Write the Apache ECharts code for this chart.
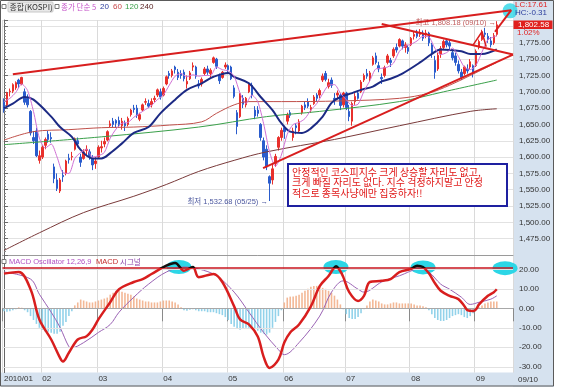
<!DOCTYPE html>
<html><head><meta charset="utf-8">
<script src="https://cdn.jsdelivr.net/npm/echarts@6/dist/echarts.min.js"></script>
<style>html,body{margin:0;padding:0;background:#fff;overflow:hidden}#c{width:565px;height:387px}</style>
</head><body><div id="c"></div><script>
// ---- trading days (2010) ----
const janDays=[13,14,15,18,19,20,21,22,25,26,27,28,29];
const febDays=[1,2,3,4,5,8,9,10,11,12,16,17,18,19,22,23,24,25,26];
const marDays=[2,3,4,5,8,9,10,11,12,15,16,17,18,19,22,23,24,25,26,29,30,31];
const aprDays=[1,2,5,6,7,8,9,12,13,14,15,16,19,20,21,22,23,26,27,28,29,30];
const mayDays=[3,4,6,7,10,11,12,13,14,17,18,19,20,24,25,26,27,28,31];
const junDays=[1,3,4,7,8,9,10,11,14,15,16,17,18,21,22,23,24,25,28,29,30];
const julDays=[1,2,5,6,7,8,9,12,13,14,15,16,19,20,21,22,23,26,27,28,29,30];
const augDays=[2,3,4,5,6,9,10,11,12,13,16,17,18,19,20,23,24,25,26,27,30,31];
const sepDays=[1,2,3,6,7,8,9,10];

// ---- KOSPI daily [open, high, low, close] ----
const ohlcJan=[[1684,1690,1668,1672],[1680,1700,1678,1698],[1700,1705,1693,1701],[1701,1713,1698,1711],[1706,1716,1703,1714],[1718,1720,1706,1712],[1712,1723,1710,1722],[1700,1705,1680,1684],[1690,1696,1676,1680],[1670,1672,1633,1637],[1630,1640,1620,1625],[1640,1645,1600,1602],[1595,1610,1590,1602]];
const ohlcFeb=[[1600,1618,1597,1615],[1618,1630,1612,1627],[1635,1640,1622,1627],[1630,1638,1622,1628],[1585,1590,1560,1567],[1565,1575,1548,1552],[1548,1568,1545,1565],[1572,1580,1562,1570],[1575,1596,1572,1594],[1598,1605,1590,1596],[1600,1608,1595,1601],[1612,1630,1610,1628],[1625,1630,1615,1620],[1600,1605,1585,1592],[1598,1612,1596,1608],[1610,1618,1602,1612],[1608,1612,1596,1601],[1598,1603,1580,1588],[1590,1600,1582,1594]];
const ohlcMar=[[1600,1618,1598,1615],[1614,1625,1607,1616],[1620,1630,1615,1624],[1626,1641,1624,1639],[1648,1656,1645,1651],[1655,1660,1646,1650],[1656,1658,1645,1652],[1656,1662,1646,1650],[1648,1660,1642,1655],[1652,1656,1640,1648],[1650,1662,1647,1659],[1665,1674,1662,1672],[1675,1680,1668,1673],[1675,1680,1660,1664],[1658,1668,1655,1665],[1672,1682,1670,1680],[1684,1690,1680,1685],[1682,1688,1675,1678],[1680,1690,1676,1685],[1688,1694,1684,1690],[1695,1705,1692,1703],[1700,1705,1688,1692]];
const ohlcApr=[[1695,1708,1693,1705],[1712,1725,1710,1723],[1728,1732,1720,1725],[1725,1735,1722,1732],[1738,1740,1728,1734],[1730,1735,1718,1722],[1728,1733,1720,1725],[1730,1734,1716,1720],[1712,1725,1705,1716],[1720,1732,1718,1729],[1738,1745,1732,1740],[1738,1740,1720,1724],[1712,1718,1705,1709],[1712,1722,1708,1719],[1728,1738,1725,1735],[1735,1740,1726,1730],[1728,1736,1722,1733],[1745,1754,1743,1752],[1750,1752,1735,1739],[1725,1728,1712,1717],[1722,1732,1720,1730],[1738,1745,1735,1741]];
const ohlcMay=[[1740,1742,1728,1734],[1738,1740,1718,1720],[1706,1710,1690,1693],[1668,1672,1635,1647],[1662,1698,1660,1697],[1690,1695,1675,1681],[1680,1692,1676,1690],[1700,1714,1698,1712],[1710,1714,1690,1695],[1672,1678,1658,1663],[1672,1678,1662,1667],[1650,1652,1625,1630],[1625,1630,1595,1600],[1612,1618,1580,1585],[1570,1572,1532.68,1560],[1565,1590,1558,1582],[1590,1605,1585,1601],[1615,1632,1610,1630],[1630,1645,1625,1641]];
const ohlcJun=[[1645,1648,1628,1639],[1655,1668,1650,1664],[1668,1672,1660,1664],[1630,1645,1625,1640],[1648,1652,1635,1645],[1640,1658,1638,1654],[1668,1680,1665,1678],[1680,1685,1672,1676],[1685,1690,1675,1678],[1672,1680,1668,1676],[1682,1695,1680,1692],[1695,1698,1685,1690],[1695,1705,1690,1702],[1718,1728,1715,1724],[1728,1732,1716,1719],[1708,1720,1705,1714],[1718,1722,1706,1710],[1690,1698,1680,1688],[1695,1702,1690,1698],[1695,1698,1672,1679],[1680,1700,1676,1698]];
const ohlcJul=[[1698,1700,1672,1676],[1670,1680,1655,1662],[1655,1685,1648,1682],[1685,1698,1680,1693],[1698,1702,1688,1690],[1700,1718,1698,1715],[1718,1728,1715,1725],[1728,1735,1720,1724],[1720,1732,1716,1729],[1742,1755,1740,1752],[1755,1760,1742,1745],[1740,1746,1730,1735],[1722,1728,1712,1720],[1725,1740,1722,1737],[1745,1758,1742,1755],[1748,1752,1738,1745],[1755,1768,1752,1765],[1768,1774,1760,1764],[1770,1782,1768,1780],[1778,1780,1765,1770],[1768,1776,1760,1772],[1768,1772,1758,1762]];
const ohlcAug=[[1772,1784,1770,1782],[1785,1792,1780,1788],[1790,1795,1782,1785],[1788,1796,1784,1790],[1790,1794,1778,1782],[1788,1795,1782,1790],[1790,1792,1770,1775],[1772,1775,1752,1758],[1748,1755,1720,1730],[1735,1760,1732,1756],[1758,1770,1752,1766],[1768,1780,1765,1777],[1778,1782,1768,1772],[1775,1780,1764,1770],[1760,1765,1748,1752],[1755,1760,1740,1745],[1742,1748,1728,1732],[1730,1735,1718,1722],[1728,1740,1725,1738],[1735,1742,1728,1732],[1738,1750,1735,1746],[1740,1742,1722,1728]];
const ohlcSep=[[1740,1765,1738,1762],[1768,1780,1765,1777],[1780,1795,1778,1792],[1790,1798,1784,1788],[1785,1790,1775,1780],[1778,1784,1768,1772],[1775,1790,1772,1786],[1788,1808.18,1785,1802.58]];

// ---- moving averages [dayIndex, value] ----
const ma5=[[0,1685],[2,1690],[4,1699],[6,1712],[8,1702],[10,1670],[12,1629],[14,1614],[16,1620],[18,1600],[20,1576],[22,1575],[24,1598],[26,1607],[28,1612],[30,1600],[32,1602],[34,1607],[36,1629],[38,1643],[40,1652],[42,1653],[44,1661],[46,1667],[48,1673],[50,1679],[52,1688],[54,1695],[56,1710],[58,1724],[60,1728],[62,1723],[64,1726],[66,1724],[68,1725],[70,1725],[72,1738],[74,1734],[76,1732],[78,1724],[80,1698],[82,1682],[84,1695],[86,1685],[88,1651],[90,1608],[92,1586],[94,1603],[96,1635],[98,1650],[100,1653],[102,1659],[104,1672],[106,1682],[108,1697],[110,1710],[112,1711],[114,1698],[116,1688],[118,1679],[120,1681],[122,1701],[124,1717],[126,1735],[128,1736],[130,1738],[132,1744],[134,1762],[136,1770],[138,1773],[140,1778],[142,1785],[144,1784],[146,1767],[148,1757],[150,1760],[152,1767],[154,1754],[156,1738],[158,1734],[160,1741],[162,1761],[164,1780],[166,1784],[167,1786]];
const ma20=[[0,1675],[3,1682],[7,1692],[10,1688],[16,1662],[19,1646],[23,1631],[26,1611],[30,1598],[33,1598],[36,1606],[40,1621],[44,1637],[49,1646],[53,1667],[58,1688],[62,1703],[67,1713],[71,1723],[76,1729],[78,1723],[83,1713],[87,1692],[91,1672],[94,1652],[97,1639],[101,1637],[104,1644],[108,1662],[111,1683],[114,1692],[118,1698],[121,1703],[125,1708],[128,1716],[131,1720],[135,1728],[141,1745],[145,1758],[148,1765],[155,1762],[158,1758],[162,1758],[167,1765]];
const ma60=[[0,1626],[10,1639],[22,1642],[33,1645],[44,1646],[56,1649],[67,1654],[72,1667],[78,1680],[83,1685],[94,1685],[114,1686],[134,1690],[144,1698],[151,1710],[158,1725],[167,1745]];
const ma120=[[0,1619],[33,1631],[66,1646],[89,1662],[107,1670],[134,1685],[149,1700],[167,1718]];
const ma240=[[0,1457],[12,1484],[27,1515],[44,1540],[55,1558],[66,1578],[78,1595],[89,1608],[112,1627],[134,1648],[158,1670],[167,1674]];

// ---- MACD 12,26,9 ----
const macdLine=[[0,17.8],[5,18.6],[9,9.8],[12,-5.7],[16,-16],[19,-25.4],[20,-27.3],[22,-22.8],[25,-16],[28,-14.3],[30,-10.9],[32,-5.7],[36,3.1],[39,9.8],[44,13.5],[47,15],[50,17.6],[55,21.9],[58,23.3],[61,19.3],[64,21.2],[66,16],[71,17.6],[74,13.5],[78,1],[80,-5.7],[83,-8.3],[86,-14.5],[88,-24.9],[90,-30.6],[93,-26.4],[95,-17.6],[97,-12.4],[100,-8.3],[104,1],[107,11.4],[110,16.6],[111.5,20],[112.5,21.6],[114,19],[115,16],[117,8.3],[120,3.8],[122,6.4],[124,13.5],[128,14.1],[131,15],[134,18.6],[138,20.2],[140,21.9],[142,21.2],[144,18],[146,13],[148,9],[151,6.4],[154,4.7],[156,1.2],[157,-0.9],[159,-1.4],[160,-0.5],[161,2],[164,6.4],[166,8.3],[167,9.8]];
const signalLine=[[0,18.6],[9,15],[12,7.2],[16,-2],[19,-9.8],[22,-19.7],[23,-20.2],[27,-17.6],[32,-12.4],[36,-8.3],[39,-2],[44,5.7],[49,12.4],[55,18.6],[61,21.2],[66,20.2],[72,16.7],[78,8.3],[83,-2],[88,-12.4],[93,-21.2],[95,-23.8],[100,-17.6],[107,-4],[111,8.3],[115,14.1],[120,9.8],[122,8.3],[128,13.5],[134,16.7],[141,20.2],[144,18.6],[148,12.4],[151,9.8],[155,5.7],[158,2],[161,3.1],[165,4.7],[167,6.4]];
const oscillator=[-1.5,-1.8,-1.5,-1,-0.5,0.5,0.3,-1,-2,-4,-6,-8,-10,-11,-12,-12,-12.5,-13,-13,-12,-9,-7,-4,-1.5,1.5,3,4.5,4,3.5,3,3,3.5,4,4.5,5,5.5,7,8,9,9,8.5,8,7.5,7,6,5,4.5,4,3.5,3.5,3,3,3,3.5,4,4,4,3.5,3,2,0.5,-1,-1.2,-0.8,-0.5,-1,-1.5,-1.5,-1.5,-2,-2,-2,-2.5,-3,-3.5,-4.5,-6,-8,-9.5,-10.5,-11,-10.5,-10,-10,-10,-10.5,-11.5,-12.5,-13,-13.5,-12.5,-10,-7,-4,-1,3,5.5,6,6,6.5,7,8,9,10,11,11.5,11.5,11,10.5,10,9,8,6.5,4.5,2,-0.5,-3,-5,-5.5,-5.5,-4.5,-2.5,-0.5,1.5,3.5,4.5,4,3.5,2.5,2,2,2.5,3,3,2.5,2.5,2.5,2.5,2.5,2,1.5,1.5,1,0.5,-1,-3,-5,-6,-6.5,-6.5,-6,-5,-4,-3.5,-3,-3.5,-4.5,-5,-4,-2.5,-1,0.5,1.5,2.5,3,3.5,3.5,3.5];

// ---- tick values ----
const macdTicks=[-30,-20,-10,0,10,20];
const macdRefLevel=21;

// ---- annotations (day index, price) ----
const upperTrend=[[3,1727],[171.9,1825]];
const fallTrend=[[128,1804],[172.5,1757]];
const riseTrend=[[87.8,1583],[172.5,1757]];
const zigzag=[[159,1772],[162,1792],[163.4,1769]];
const lastArrow=[[166.4,1792],[171.9,1825]];
const highNote={idx:139.3, price:1805.5, text:'최고 1,808.18 (09/10) →'};
const lowNote={idx:62, price:1531.3, text:'최저 1,532.68 (05/25) →'};
const topCircle=[171.5,1824];
const macdCircles=[[59.3,21.2],[112.5,21.2],[142,21],[169.8,20.6]];
const memo=['안정적인 코스피지수 크게 상승할 자리도 없고,','크게 빠질 자리도 없다. 지수 걱정하지말고 안정','적으로 종목사냥에만 집중하자!!'];

// ---- build ----
const months=[janDays,febDays,marDays,aprDays,mayDays,junDays,julDays,augDays,sepDays];
const cats=[]; const monthStart=new Set();
months.forEach((days,m)=>days.forEach((d,k)=>{ if(k===0) monthStart.add(cats.length); cats.push('2010/'+String(m+1).padStart(2,'0')+'/'+String(d).padStart(2,'0')); }));
for(let i=0;i<5;i++) cats.push('');
const nSlots=cats.length;
const candles=[].concat(ohlcJan,ohlcFeb,ohlcMar,ohlcApr,ohlcMay,ohlcJun,ohlcJul,ohlcAug,ohlcSep).map(r=>[r[0],r[3],r[2],r[1]]);
const isMonth=(i)=>monthStart.has(i);
const FONT="'Liberation Sans','Noto Sans CJK KR',sans-serif";
const KFONT="'Noto Sans CJK KR','Liberation Sans',sans-serif";
const fmtPrice=v=>v.toLocaleString('en-US',{minimumFractionDigits:2,maximumFractionDigits:2});

const G0={left:2.5,top:20,width:510.5,height:235};
const G1={left:2.5,top:255.7,width:510.5,height:116.9};

function lineSeries(name,data,color,width,xi,yi,extra){
  return Object.assign({type:'line',name,data,xAxisIndex:xi,yAxisIndex:yi,symbol:'none',smooth:0.35,
    lineStyle:{color,width},itemStyle:{color},silent:true,clip:false,z:3},extra||{});
}
const RED='#d81e1e';
const chart=echarts.init(document.getElementById('c'),null,{renderer:'canvas'});
const option={
  animation:false,
  backgroundColor:'#ffffff',
  grid:[Object.assign({outerBoundsMode:'none'},G0),Object.assign({outerBoundsMode:'none'},G1)],
  xAxis:[
    {type:'category',gridIndex:0,data:cats,boundaryGap:true,axisLine:{show:true,lineStyle:{color:'#9a9a9a'}},axisTick:{show:false},axisLabel:{show:false},
     splitLine:{show:true,interval:(i)=>isMonth(i),lineStyle:{color:'#dadada',width:1}}},
    {type:'category',gridIndex:1,data:cats,boundaryGap:true,axisLine:{show:true,lineStyle:{color:'#8a8a8a'}},
     axisTick:{show:true,interval:(i)=>isMonth(i),length:13,lineStyle:{color:'#8a8a8a'}},
     axisLabel:{show:true,interval:(i)=>isMonth(i),align:'left',margin:2,fontSize:8,color:'#333',fontFamily:FONT,
       formatter:(v,i)=>i===0?'2010/01':v.slice(5,7)},
     splitLine:{show:true,interval:(i)=>isMonth(i),lineStyle:{color:'#dadada',width:1}}},
    {type:'value',gridIndex:0,min:-0.5,max:nSlots-0.5,show:false},
    {type:'value',gridIndex:1,min:-0.5,max:nSlots-0.5,show:false}
  ],
  yAxis:[
    {type:'value',gridIndex:0,position:'right',min:1450,max:1810,interval:25,
     axisLine:{show:true,lineStyle:{color:'#666'}},axisTick:{show:true,length:4,lineStyle:{color:'#666'}},
     minorTick:{show:true,splitNumber:5,length:2,lineStyle:{color:'#888'}},
     axisLabel:{show:true,margin:6,fontSize:8,color:'#333',fontFamily:FONT,showMaxLabel:false,showMinLabel:false,formatter:fmtPrice},
     splitLine:{show:true,lineStyle:{color:'#e2e2e2'}}},
    {type:'value',gridIndex:1,position:'right',min:-33,max:27,
     axisLine:{show:true,lineStyle:{color:'#666'}},axisTick:{show:true,length:4,customValues:macdTicks,lineStyle:{color:'#666'}},
     axisLabel:{show:true,margin:6,fontSize:8,color:'#333',fontFamily:FONT,customValues:macdTicks,formatter:v=>v.toFixed(2)},
     splitLine:{show:false}}
  ],
  series:[
    {type:'candlestick',name:'KOSPI',xAxisIndex:0,yAxisIndex:0,data:candles,barWidth:2,silent:true,z:2,
     itemStyle:{color:'#e8302c',color0:'#2a5ccc',borderColor:'#e8302c',borderColor0:'#2a5ccc',borderWidth:1}},
    lineSeries('MA240',ma240,'#7a3a3a',1,2,0),
    lineSeries('MA120',ma120,'#3aa04a',1,2,0),
    lineSeries('MA60',ma60,'#c0504a',1,2,0),
    lineSeries('MA20',ma20,'#1c2a84',2,2,0),
    lineSeries('MA5',ma5,'#d070d4',1,2,0,{smooth:0.25}),
    {type:'bar',name:'Oscillator',xAxisIndex:1,yAxisIndex:1,data:oscillator,barWidth:1.6,silent:true,z:2,
     itemStyle:{color:(p)=>p.value>=0?'#f3b896':'#92d2ea'},
     markLine:{silent:true,symbol:'none',label:{show:false},
       data:macdTicks.map(v=>({yAxis:v,lineStyle:{color:v===0?'#a8a8a8':'#e2e2e2',width:1,type:'solid'}}))}},
    {type:'scatter',xAxisIndex:3,yAxisIndex:1,data:macdCircles,symbol:'circle',symbolSize:[25,14],clip:false,silent:true,z:3,
     itemStyle:{color:'#2cd6e6',opacity:1}},
    lineSeries('Signal',signalLine,'#9a62b4',1,3,1,{z:4}),
    lineSeries('MACD',macdLine,RED,2.5,3,1,{id:'macd',z:5,
      markLine:{silent:true,symbol:'none',label:{show:false},data:[{yAxis:macdRefLevel,lineStyle:{color:'#c8141e',width:1.5,type:'solid'}}]}}),
    {type:'scatter',xAxisIndex:2,yAxisIndex:0,data:[topCircle],symbol:'circle',symbolSize:15,clip:false,silent:true,z:3,
     itemStyle:{color:'#2cd6e6'}},
    lineSeries('upper',upperTrend,RED,2,2,0,{smooth:false,z:6}),
    lineSeries('fall',fallTrend,RED,2,2,0,{smooth:false,z:6}),
    lineSeries('rise',riseTrend,RED,2,2,0,{smooth:false,z:6}),
    lineSeries('zigzag',zigzag,RED,1.5,2,0,{smooth:false,z:6}),
    lineSeries('arrow',lastArrow,RED,2,2,0,{smooth:false,z:6,
      markLine:{silent:true,symbol:['none','arrow'],symbolSize:7,label:{show:false},lineStyle:{color:RED,width:2,type:'solid'},
        data:[[{coord:lastArrow[0]},{coord:lastArrow[1]}]]}}),
    {type:'scatter',xAxisIndex:2,yAxisIndex:0,symbolSize:1,clip:false,silent:true,z:7,itemStyle:{color:'rgba(0,0,0,0)'},
     data:[{value:[highNote.idx,highNote.price],label:{show:true,position:'right',distance:0,formatter:highNote.text,color:'#b23232',fontSize:7.5,fontFamily:FONT}},
           {value:[lowNote.idx,lowNote.price],label:{show:true,position:'right',distance:0,formatter:lowNote.text,color:'#1c2a84',fontSize:7.5,fontFamily:FONT}}]}
  ],
  graphic:[
    {type:'rect',z:-100,silent:true,shape:{x:513,y:0,width:41,height:387},style:{fill:'#d6e2ef'}},
    {type:'rect',z:-100,silent:true,shape:{x:0,y:372.6,width:554,height:14},style:{fill:'#d6e2ef'}},
    {type:'rect',z:100,silent:true,shape:{x:0.5,y:0.5,width:553,height:385.5},style:{fill:'none',stroke:'#5a5a5a',lineWidth:1}},
    {type:'rect',z:100,shape:{x:2,y:4.5,width:4,height:4},style:{fill:'#fff',stroke:'#777',lineWidth:1}},
    {type:'rect',z:99,shape:{x:8,y:2,width:45,height:10,r:1},style:{fill:'#e8e8e8',stroke:'#c8c8c8'}},
    {type:'text',z:100,style:{x:9.5,y:7,text:'종합(KOSPI)',fill:'#333',fontSize:8,fontFamily:KFONT,verticalAlign:'middle'}},
    {type:'rect',z:100,shape:{x:55,y:4.5,width:4,height:4},style:{fill:'#fff',stroke:'#777',lineWidth:1}},
    {type:'text',z:100,style:{x:61,y:7,text:'종가 단순 5',fill:'#c452c8',fontSize:7.5,fontFamily:KFONT,verticalAlign:'middle'}},
    {type:'text',z:100,style:{x:100,y:7,text:'20',fill:'#2a3c9c',fontSize:8,fontFamily:FONT,verticalAlign:'middle'}},
    {type:'text',z:100,style:{x:113,y:7,text:'60',fill:'#c8484a',fontSize:8,fontFamily:FONT,verticalAlign:'middle'}},
    {type:'text',z:100,style:{x:125,y:7,text:'120',fill:'#3aa04a',fontSize:8,fontFamily:FONT,verticalAlign:'middle'}},
    {type:'text',z:100,style:{x:140,y:7,text:'240',fill:'#5a2424',fontSize:8,fontFamily:FONT,verticalAlign:'middle'}},
    {type:'rect',z:100,shape:{x:2,y:259.5,width:4,height:4},style:{fill:'#fff',stroke:'#777',lineWidth:1}},
    {type:'text',z:100,style:{x:9,y:262,text:'MACD Oscillator 12,26,9',fill:'#b050c4',fontSize:7.5,fontFamily:FONT,verticalAlign:'middle'}},
    {type:'text',z:100,style:{x:96,y:262,text:'MACD',fill:'#c42a2a',fontSize:7.5,fontFamily:FONT,verticalAlign:'middle'}},
    {type:'text',z:100,style:{x:120,y:262,text:'시그널',fill:'#8a44aa',fontSize:7.5,fontFamily:KFONT,verticalAlign:'middle'}},
    {type:'text',z:100,style:{x:515,y:5,text:'LC:17.61',fill:'#e02424',fontSize:8,fontFamily:FONT,verticalAlign:'middle'}},
    {type:'text',z:100,style:{x:515,y:13,text:'HC:-0.31',fill:'#2a3c9c',fontSize:8,fontFamily:FONT,verticalAlign:'middle'}},
    {type:'rect',z:100,shape:{x:513.5,y:20.5,width:39,height:8.5},style:{fill:'#e0201e'}},
    {type:'text',z:101,style:{x:518,y:25,text:'1,802.58',fill:'#fff',fontSize:8,fontFamily:FONT,verticalAlign:'middle'}},
    {type:'text',z:100,style:{x:517,y:33,text:'1.02%',fill:'#e02424',fontSize:8,fontFamily:FONT,verticalAlign:'middle'}},
    {type:'text',z:100,style:{x:518,y:379.5,text:'09/10',fill:'#333',fontSize:8,fontFamily:FONT,verticalAlign:'middle'}},
    {type:'rect',z:100,shape:{x:288,y:164,width:219,height:42},style:{fill:'#fff',stroke:'#1e20a0',lineWidth:2}},
    {type:'text',z:101,style:{x:292,y:172,text:memo[0],fill:'#e01818',fontSize:10,fontFamily:KFONT,verticalAlign:'middle'}},
    {type:'text',z:101,style:{x:292,y:182.5,text:memo[1],fill:'#e01818',fontSize:10,fontFamily:KFONT,verticalAlign:'middle'}},
    {type:'text',z:101,style:{x:292,y:193,text:memo[2],fill:'#e01818',fontSize:10,fontFamily:KFONT,verticalAlign:'middle'}}
  ]
};
chart.setOption(option);
// colour the MACD line black where it rises above the reference level
const yT=chart.convertToPixel({yAxisIndex:1},macdRefLevel-0.3);
chart.setOption({series:[{id:'macd',lineStyle:{color:new echarts.graphic.LinearGradient(0,yT-0.5,0,yT+0.5,[{offset:0,color:'#111'},{offset:1,color:RED}],true)}}]});
</script></body></html>
